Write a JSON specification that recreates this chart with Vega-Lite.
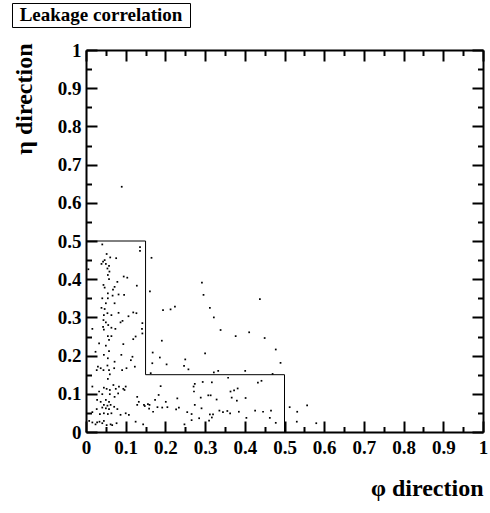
{
  "$schema": "https://vega.github.io/schema/vega-lite/v6.json",
  "padding": {"left": 11, "top": 2, "right": 3, "bottom": 3},
  "background": "white",
  "spacing": 13,
  "config": {
    "view": {"stroke": null},
    "font": "Liberation Serif",
    "axis": {
      "labelFont": "Liberation Serif", "labelFontWeight": "bold", "labelFontSize": 19, "labelColor": "black",
      "titleFont": "Liberation Serif", "titleFontWeight": "bold", "titleFontSize": 24, "titleColor": "black",
      "domainColor": "black", "tickColor": "black", "grid": false, "domainWidth": 2, "tickWidth": 2,
      "labelFlush": false, "labelOverlap": false
    }
  },
  "vconcat": [
    {
      "width": 178, "height": 24,
      "view": {"stroke": "black", "strokeWidth": 1},
      "data": {"values": [{"label": "Leakage correlation"}]},
      "mark": {"type": "text", "font": "Liberation Serif", "fontWeight": "bold", "fontSize": 19, "color": "black", "align": "center", "baseline": "middle"},
      "encoding": {"text": {"field": "label"}}
    },
    {
      "width": 471, "height": 382,
      "resolve": {"axis": {"x": "independent", "y": "independent"}},
      "layer": [
        {
          "data": {"values": [
            {"phi":0.339,"eta":0.267},{"phi":0.377,"eta":0.251},{"phi":0.191,"eta":0.239},{"phi":0.168,"eta":0.208},{"phi":0.300,"eta":0.206},{"phi":0.186,"eta":0.195},{"phi":0.250,"eta":0.190},{"phi":0.167,"eta":0.180},{"phi":0.203,"eta":0.177},{"phi":0.247,"eta":0.173},
            {"phi":0.258,"eta":0.164},{"phi":0.163,"eta":0.154},{"phi":0.322,"eta":0.156},{"phi":0.333,"eta":0.160},{"phi":0.358,"eta":0.142},{"phi":0.294,"eta":0.131},{"phi":0.317,"eta":0.130},{"phi":0.274,"eta":0.126},{"phi":0.188,"eta":0.120},{"phi":0.271,"eta":0.119},
            {"phi":0.382,"eta":0.114},{"phi":0.373,"eta":0.109},{"phi":0.364,"eta":0.106},{"phi":0.272,"eta":0.106},{"phi":0.183,"eta":0.097},{"phi":0.308,"eta":0.096},{"phi":0.314,"eta":0.096},{"phi":0.289,"eta":0.090},{"phi":0.230,"eta":0.088},{"phi":0.367,"eta":0.090},
            {"phi":0.329,"eta":0.085},{"phi":0.174,"eta":0.084},{"phi":0.380,"eta":0.082},{"phi":0.201,"eta":0.079},{"phi":0.156,"eta":0.073},{"phi":0.160,"eta":0.071},{"phi":0.274,"eta":0.071},{"phi":0.148,"eta":0.068},{"phi":0.180,"eta":0.065},{"phi":0.192,"eta":0.064},
            {"phi":0.205,"eta":0.065},{"phi":0.234,"eta":0.064},{"phi":0.159,"eta":0.061},{"phi":0.291,"eta":0.062},{"phi":0.227,"eta":0.059},{"phi":0.169,"eta":0.053},{"phi":0.255,"eta":0.052},{"phi":0.336,"eta":0.056},{"phi":0.345,"eta":0.052},{"phi":0.356,"eta":0.055},
            {"phi":0.385,"eta":0.053},{"phi":0.363,"eta":0.049},{"phi":0.266,"eta":0.047},{"phi":0.312,"eta":0.046},{"phi":0.320,"eta":0.046},{"phi":0.317,"eta":0.038},{"phi":0.285,"eta":0.036},{"phi":0.266,"eta":0.031},{"phi":0.310,"eta":0.030},{"phi":0.248,"eta":0.020},
            {"phi":0.411,"eta":0.261},{"phi":0.450,"eta":0.246},{"phi":0.478,"eta":0.216},{"phi":0.490,"eta":0.181},{"phi":0.401,"eta":0.160},{"phi":0.470,"eta":0.152},{"phi":0.442,"eta":0.134},{"phi":0.433,"eta":0.129},{"phi":0.402,"eta":0.089},{"phi":0.513,"eta":0.065},
            {"phi":0.557,"eta":0.070},{"phi":0.532,"eta":0.053},{"phi":0.426,"eta":0.056},{"phi":0.446,"eta":0.053},{"phi":0.466,"eta":0.056},{"phi":0.404,"eta":0.037},{"phi":0.463,"eta":0.037},{"phi":0.478,"eta":0.024},{"phi":0.531,"eta":0.027},{"phi":0.580,"eta":0.023},
            {"phi":0.292,"eta":0.391},{"phi":0.161,"eta":0.368},{"phi":0.296,"eta":0.359},{"phi":0.438,"eta":0.348},{"phi":0.224,"eta":0.328},{"phi":0.194,"eta":0.319},{"phi":0.213,"eta":0.321},{"phi":0.312,"eta":0.325},{"phi":0.322,"eta":0.300},{"phi":0.165,"eta":0.456},
            {"phi":0.041,"eta":0.491},{"phi":0.136,"eta":0.484},{"phi":0.136,"eta":0.474},{"phi":0.052,"eta":0.466},{"phi":0.061,"eta":0.457},{"phi":0.076,"eta":0.455},{"phi":0.047,"eta":0.450},{"phi":0.043,"eta":0.446},{"phi":0.039,"eta":0.440},{"phi":0.050,"eta":0.440},
            {"phi":0.058,"eta":0.435},{"phi":0.054,"eta":0.428},{"phi":0.006,"eta":0.426},{"phi":0.059,"eta":0.420},{"phi":0.055,"eta":0.411},{"phi":0.095,"eta":0.407},{"phi":0.104,"eta":0.404},{"phi":0.058,"eta":0.400},{"phi":0.079,"eta":0.393},{"phi":0.128,"eta":0.383},
            {"phi":0.044,"eta":0.385},{"phi":0.047,"eta":0.378},{"phi":0.072,"eta":0.380},{"phi":0.068,"eta":0.373},{"phi":0.055,"eta":0.363},{"phi":0.082,"eta":0.360},{"phi":0.067,"eta":0.357},{"phi":0.096,"eta":0.359},{"phi":0.041,"eta":0.350},{"phi":0.055,"eta":0.350},
            {"phi":0.072,"eta":0.337},{"phi":0.050,"eta":0.337},{"phi":0.039,"eta":0.325},{"phi":0.047,"eta":0.322},{"phi":0.054,"eta":0.311},{"phi":0.064,"eta":0.306},{"phi":0.045,"eta":0.306},{"phi":0.119,"eta":0.313},{"phi":0.127,"eta":0.311},{"phi":0.082,"eta":0.312},
            {"phi":0.107,"eta":0.303},{"phi":0.044,"eta":0.293},{"phi":0.050,"eta":0.287},{"phi":0.092,"eta":0.291},{"phi":0.087,"eta":0.287},{"phi":0.056,"eta":0.280},{"phi":0.064,"eta":0.273},{"phi":0.074,"eta":0.270},{"phi":0.043,"eta":0.275},{"phi":0.045,"eta":0.268},
            {"phi":0.142,"eta":0.285},{"phi":0.142,"eta":0.258},{"phi":0.016,"eta":0.270},{"phi":0.141,"eta":0.270},
            {"phi":0.055,"eta":0.251},{"phi":0.064,"eta":0.251},{"phi":0.125,"eta":0.250},{"phi":0.033,"eta":0.232},{"phi":0.058,"eta":0.241},{"phi":0.050,"eta":0.226},{"phi":0.094,"eta":0.230},{"phi":0.119,"eta":0.243},{"phi":0.024,"eta":0.210},{"phi":0.058,"eta":0.212},
            {"phi":0.045,"eta":0.202},{"phi":0.055,"eta":0.193},{"phi":0.089,"eta":0.202},{"phi":0.117,"eta":0.197},{"phi":0.113,"eta":0.188},{"phi":0.072,"eta":0.184},{"phi":0.030,"eta":0.171},{"phi":0.037,"eta":0.167},{"phi":0.054,"eta":0.174},{"phi":0.027,"eta":0.162},
            {"phi":0.044,"eta":0.162},{"phi":0.058,"eta":0.162},{"phi":0.071,"eta":0.167},{"phi":0.091,"eta":0.162},{"phi":0.102,"eta":0.167},{"phi":0.060,"eta":0.151},{"phi":0.055,"eta":0.139},{"phi":0.016,"eta":0.119},{"phi":0.045,"eta":0.116},{"phi":0.052,"eta":0.113},
            {"phi":0.060,"eta":0.110},{"phi":0.075,"eta":0.113},{"phi":0.069,"eta":0.123},{"phi":0.083,"eta":0.119},{"phi":0.094,"eta":0.113},{"phi":0.100,"eta":0.119},{"phi":0.097,"eta":0.110},{"phi":0.033,"eta":0.106},{"phi":0.041,"eta":0.099},{"phi":0.060,"eta":0.099},
            {"phi":0.072,"eta":0.092},{"phi":0.081,"eta":0.101},{"phi":0.129,"eta":0.092},{"phi":0.133,"eta":0.079},{"phi":0.146,"eta":0.071},{"phi":0.129,"eta":0.071},{"phi":0.028,"eta":0.084},{"phi":0.037,"eta":0.079},{"phi":0.050,"eta":0.084},{"phi":0.058,"eta":0.079},
            {"phi":0.045,"eta":0.071},{"phi":0.054,"eta":0.069},{"phi":0.062,"eta":0.071},{"phi":0.050,"eta":0.062},{"phi":0.041,"eta":0.064},{"phi":0.058,"eta":0.060},{"phi":0.071,"eta":0.066},{"phi":0.079,"eta":0.060},{"phi":0.027,"eta":0.060},{"phi":0.016,"eta":0.052},
            {"phi":0.035,"eta":0.047},{"phi":0.045,"eta":0.049},{"phi":0.055,"eta":0.047},{"phi":0.064,"eta":0.049},{"phi":0.087,"eta":0.045},{"phi":0.100,"eta":0.049},{"phi":0.108,"eta":0.045},{"phi":0.008,"eta":0.029},{"phi":0.016,"eta":0.025},{"phi":0.028,"eta":0.025},
            {"phi":0.041,"eta":0.023},{"phi":0.052,"eta":0.018},{"phi":0.024,"eta":0.020},{"phi":0.062,"eta":0.020},{"phi":0.077,"eta":0.023},{"phi":0.045,"eta":0.029},{"phi":0.144,"eta":0.020},{"phi":0.123,"eta":0.171},{"phi":0.066,"eta":0.018},{"phi":0.125,"eta":0.027},
            {"phi":0.034,"eta":0.027},{"phi":0.090,"eta":0.642}
          ]},
          "mark": {"type": "square", "size": 3, "color": "black", "opacity": 1, "filled": true},
          "encoding": {
            "x": {"field": "phi", "type": "quantitative", "scale": {"domain": [0, 1], "nice": false, "zero": false, "range": [74, 471]},
              "axis": {"orient": "bottom", "values": [0,0.1,0.2,0.3,0.4,0.5,0.6,0.7,0.8,0.9,1], "format": ".1~f", "tickSize": -11, "labelPadding": 17,
                "title": "φ direction", "titleAnchor": "end", "titlePadding": 19}},
            "y": {"field": "eta", "type": "quantitative", "scale": {"domain": [0, 1], "nice": false, "zero": false},
              "axis": {"orient": "left", "offset": -74, "values": [0,0.1,0.2,0.3,0.4,0.5,0.6,0.7,0.8,0.9,1], "format": ".1~f", "tickSize": -11, "labelPadding": 16,
                "title": "η direction", "titleAnchor": "end", "titlePadding": 21, "titleY": -7}}
          }
        },
        {
          "data": {"name": "box", "values": [
            {"phi": 0, "eta": 0.5, "k": 1},
            {"phi": 0.15, "eta": 0.5, "k": 2},
            {"phi": 0.15, "eta": 0.15, "k": 3},
            {"phi": 0.5, "eta": 0.15, "k": 4},
            {"phi": 0.5, "eta": 0, "k": 5}
          ]},
          "mark": {"type": "line", "color": "black", "strokeWidth": 1},
          "encoding": {
            "x": {"field": "phi", "type": "quantitative", "scale": {"domain": [0, 1], "nice": false, "zero": false, "range": [74, 471]},
              "axis": {"orient": "bottom", "values": [0.05,0.15,0.25,0.35,0.45,0.55,0.65,0.75,0.85,0.95], "tickSize": -5.5, "labels": false, "domain": false, "title": null}},
            "y": {"field": "eta", "type": "quantitative", "scale": {"domain": [0, 1], "nice": false, "zero": false},
              "axis": {"orient": "left", "offset": -74, "values": [0.05,0.15,0.25,0.35,0.45,0.55,0.65,0.75,0.85,0.95], "tickSize": -5.5, "labels": false, "domain": false, "title": null}},
            "order": {"field": "k", "type": "quantitative"}
          }
        },
        {
          "data": {"name": "box"},
          "mark": {"type": "line", "opacity": 0},
          "encoding": {
            "x": {"field": "phi", "type": "quantitative", "scale": {"domain": [0, 1], "nice": false, "zero": false, "range": [74, 471]},
              "axis": {"orient": "top", "values": [0,0.1,0.2,0.3,0.4,0.5,0.6,0.7,0.8,0.9,1], "tickSize": -11, "labels": false, "title": null}},
            "y": {"field": "eta", "type": "quantitative", "scale": {"domain": [0, 1], "nice": false, "zero": false},
              "axis": {"orient": "right", "values": [0,0.1,0.2,0.3,0.4,0.5,0.6,0.7,0.8,0.9,1], "tickSize": -11, "labels": false, "title": null}},
            "order": {"field": "k", "type": "quantitative"}
          }
        },
        {
          "data": {"name": "box"},
          "mark": {"type": "line", "opacity": 0},
          "encoding": {
            "x": {"field": "phi", "type": "quantitative", "scale": {"domain": [0, 1], "nice": false, "zero": false, "range": [74, 471]},
              "axis": {"orient": "top", "values": [0.05,0.15,0.25,0.35,0.45,0.55,0.65,0.75,0.85,0.95], "tickSize": -5.5, "labels": false, "domain": false, "title": null}},
            "y": {"field": "eta", "type": "quantitative", "scale": {"domain": [0, 1], "nice": false, "zero": false},
              "axis": {"orient": "right", "values": [0.05,0.15,0.25,0.35,0.45,0.55,0.65,0.75,0.85,0.95], "tickSize": -5.5, "labels": false, "domain": false, "title": null}},
            "order": {"field": "k", "type": "quantitative"}
          }
        }
      ]
    }
  ]
}
